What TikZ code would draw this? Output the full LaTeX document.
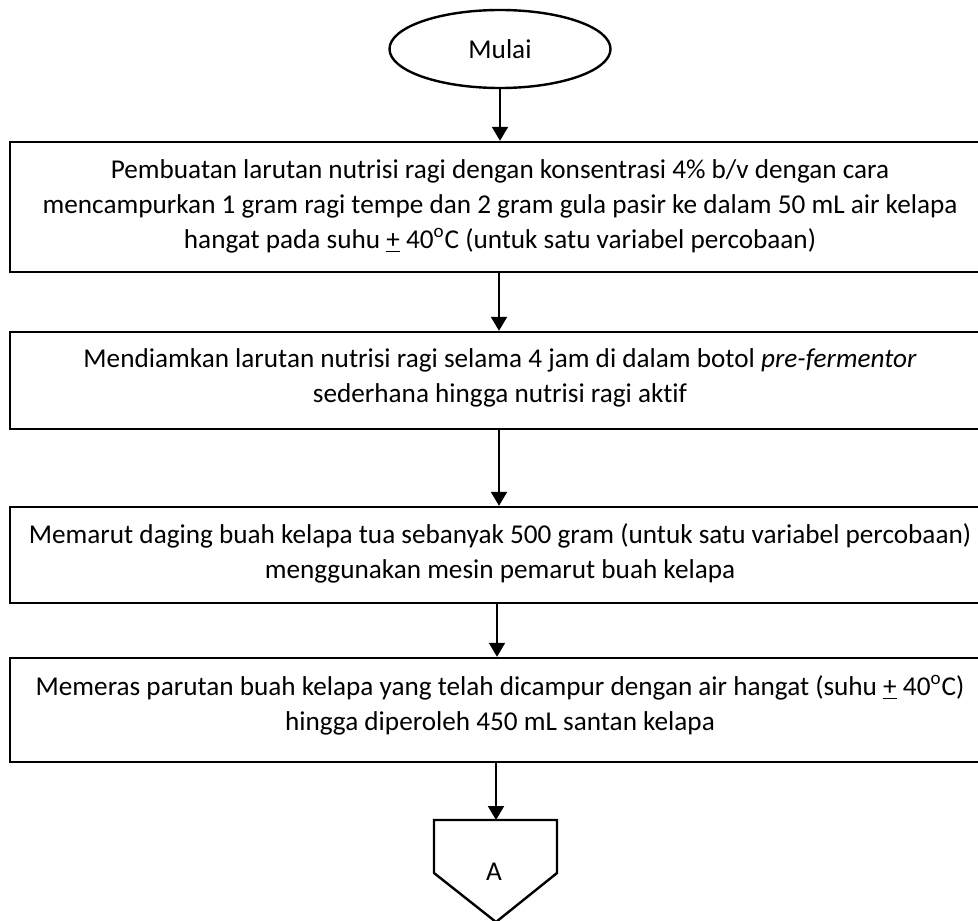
\documentclass[tikz,border=0pt]{standalone}
\usepackage{fontspec}
\setmainfont{Carlito}[Ligatures={NoCommon}]
\usetikzlibrary{shapes.geometric,arrows.meta}
\tikzset{
  box/.style={draw, line width=1.2pt, rectangle, inner sep=0pt, minimum width=490pt},
  txt/.style={align=center, inner sep=0pt, font=\fontsize{13.6}{17.5}\selectfont},
  conn/.style={line width=1pt, -{Triangle[width=8pt,length=7pt]}},
  startshape/.style={draw, line width=1.2pt, ellipse, minimum width=110.5pt, minimum height=39pt, inner sep=0pt, font=\fontsize{13.6}{15}\selectfont},
}
\begin{document}
\begin{tikzpicture}[x=0.5pt,y=-0.5pt]
\clip (0,0) rectangle (978,920);
\node[startshape] (start) at (500,49) {Mulai};
\node[box, minimum height=65pt] (b1) at (500,207) {};
\node[box, minimum height=48.5pt] (b2) at (500,380.5) {};
\node[box, minimum height=48pt] (b3) at (500,555) {};
\node[box, minimum height=52pt] (b4) at (500,710) {};
\node[txt, anchor=north] (t1) at (500,159) {Pembuatan larutan nutrisi ragi dengan konsentrasi 4\% b/v dengan cara\\mencampurkan 1 gram ragi tempe dan 2 gram gula pasir ke dalam 50 mL air kelapa\\hangat pada suhu \underline{+} 40\textsuperscript{o}C (untuk satu variabel percobaan)};
\node[txt, anchor=north] (t2) at (500,348) {Mendiamkan larutan nutrisi ragi selama 4 jam di dalam botol \textit{pre-fermentor}\\sederhana hingga nutrisi ragi aktif};
\node[txt, anchor=north] (t3) at (500,523) {Memarut daging buah kelapa tua sebanyak 500 gram (untuk satu variabel percobaan)\\menggunakan mesin pemarut buah kelapa};
\node[txt, anchor=north] (t4) at (500,675) {Memeras parutan buah kelapa yang telah dicampur dengan air hangat (suhu \underline{+} 40\textsuperscript{o}C)\\hingga diperoleh 450 mL santan kelapa};
\coordinate (ptop) at (496,820);
\draw[line width=1.2pt] (434,820) -- (557,820) -- (557,873) -- (496,922) -- (434,873) -- cycle;
\node[font=\fontsize{13.6}{15}\selectfont] (a) at (494,872) {A};
\draw[conn] (start.south) -- (start.south |- b1.north);
\draw[conn] (b1.south -| 499,0) -- (b2.north -| 499,0);
\draw[conn] (b2.south -| 499,0) -- (b3.north -| 499,0);
\draw[conn] (b3.south -| 497,0) -- (b4.north -| 497,0);
\draw[conn] (b4.south -| ptop) -- (ptop);
\end{tikzpicture}
\end{document}
